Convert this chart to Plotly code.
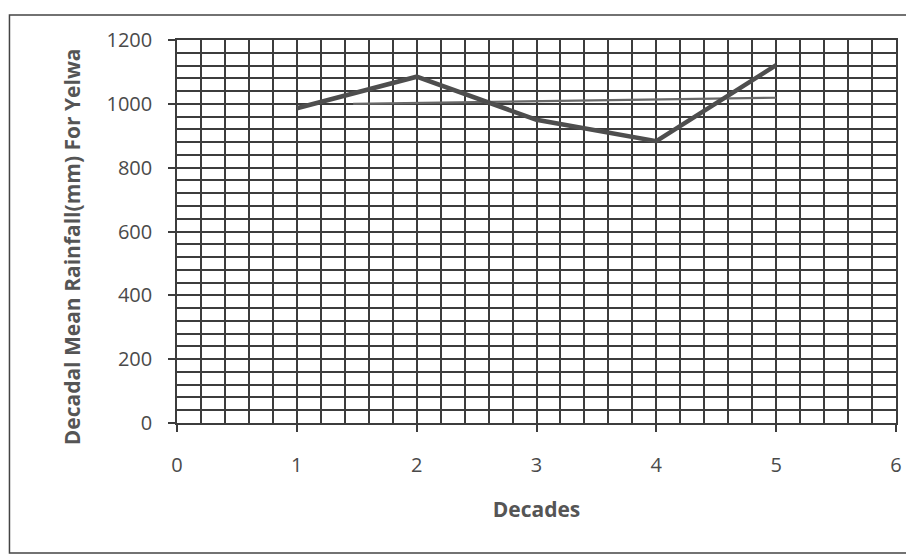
import plotly.graph_objects as go

decades = [1, 2, 3, 4, 5]
rainfall = [986, 1085, 950, 883, 1121]
trend_x = [1.47, 5]
trend_y = [1000, 1019]

x_ticks = [0, 1, 2, 3, 4, 5, 6]
y_ticks = [0, 200, 400, 600, 800, 1000, 1200]
y_title = "Decadal Mean Rainfall(mm) For Yelwa"

FONT = "Open Sans, sans-serif"
GRID = "#3c3c3c"

fig = go.Figure()
fig.add_trace(go.Scatter(x=trend_x, y=trend_y, mode="lines",
                         line=dict(color="#686868", width=2.2), showlegend=False))
fig.add_trace(go.Scatter(x=decades, y=rainfall, mode="lines",
                         line=dict(color="#4e4e4e", width=4.5), showlegend=False))

# page has an 8px body margin, so the figure is 8px smaller and margins shifted
W, H = 906, 550
L, R, T, B = 169, 16, 32, 135
pw = W - L - R
ph = H - T - B

fig.update_layout(
    width=W, height=H,
    margin=dict(l=L, r=R, t=T, b=B),
    paper_bgcolor="white", plot_bgcolor="white",
    font=dict(family=FONT, color="#4a4a4a", size=20),
    xaxis=dict(range=[0, 6], tickvals=x_ticks, showgrid=True, gridcolor=GRID, gridwidth=1.5,
               minor=dict(dtick=0.2, showgrid=True, gridcolor=GRID, gridwidth=1.5),
               ticks="outside", ticklen=7, tickcolor=GRID, tickwidth=1.5,
               showline=True, linecolor=GRID, linewidth=1.5, mirror=True, zeroline=False,
               ticklabelstandoff=16,
               title=dict(text="<b>Decades</b>", font=dict(size=21, color="#555555"), standoff=26)),
    yaxis=dict(range=[0, 1200], tickvals=y_ticks, showgrid=True, gridcolor=GRID, gridwidth=1.5,
               minor=dict(dtick=40, showgrid=True, gridcolor=GRID, gridwidth=1.5),
               ticks="outside", ticklen=7, tickcolor=GRID, tickwidth=1.5,
               showline=True, linecolor=GRID, linewidth=1.5, mirror=True, zeroline=False,
               ticklabelstandoff=12),
    annotations=[dict(text="<b>" + y_title + "</b>", textangle=-90, showarrow=False,
                      xref="paper", yref="paper",
                      x=(64 - L) / pw, y=1 - (239 - T) / ph,
                      xanchor="center", yanchor="middle",
                      font=dict(size=21, color="#555555"))],
    shapes=[dict(type="rect", xref="paper", yref="paper",
                 x0=(1 - L) / pw, x1=(902 - L) / pw,
                 y0=-(B - 5) / ph, y1=1 + (T - 7) / ph,
                 line=dict(color="#444444", width=1.5))],
)

fig.write_html("out.html")
